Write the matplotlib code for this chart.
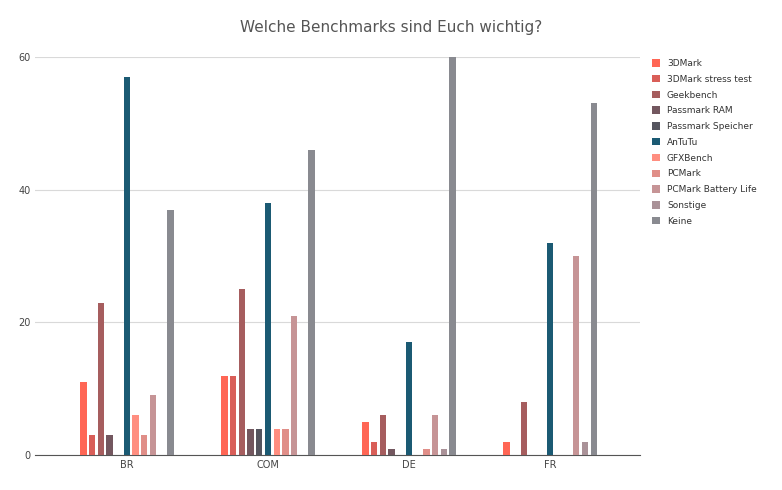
import matplotlib
matplotlib.use("Agg")
import matplotlib.pyplot as plt
import numpy as np

categories = ["BR", "COM", "DE", "FR"]
series = ["3DMark", "3DMark stress test", "Geekbench", "Passmark RAM", "Passmark Speicher",
          "AnTuTu", "GFXBench", "PCMark", "PCMark Battery Life", "Sonstige", "Keine"]
values = {
    "3DMark": [11, 12, 5, 2],
    "3DMark stress test": [3, 12, 2, 0],
    "Geekbench": [23, 25, 6, 8],
    "Passmark RAM": [3, 4, 1, 0],
    "Passmark Speicher": [0, 4, 0, 0],
    "AnTuTu": [57, 38, 17, 32],
    "GFXBench": [6, 4, 0, 0],
    "PCMark": [3, 4, 1, 0],
    "PCMark Battery Life": [9, 21, 6, 30],
    "Sonstige": [0, 0, 1, 2],
    "Keine": [37, 46, 60, 53],
}
colors = ["#ff6655", "#d95e58", "#a65d5e", "#73575f", "#55555f", "#1b5a73",
          "#ff8e80", "#e08e88", "#c69496", "#aa9298", "#898a90"]

fig = plt.figure(figsize=(7.82, 4.9), dpi=100)
ax = fig.add_axes([0.045, 0.071, 0.774, 0.813])
x = np.arange(len(categories))
step = 0.0617
for i, (s, c) in enumerate(zip(series, colors)):
    ax.bar(x + (i - 5) * step, values[s], width=0.045, color=c, label=s, zorder=3)

ax.set_xlim(-0.65, 3.64)
ax.set_ylim(0, 60)
ax.set_yticks([0, 20, 40, 60])
ax.set_xticks(x)
ax.set_xticklabels(categories)
ax.tick_params(length=0, labelsize=7, colors="#444444")
ax.grid(axis="y", color="#d9d9d9", linewidth=0.8, zorder=0)
for sp in ["top", "right", "left"]:
    ax.spines[sp].set_visible(False)
ax.spines["bottom"].set_color("#555555")
fig.text(0.5, 0.935, "Welche Benchmarks sind Euch wichtig?", ha="center", fontsize=11, color="#555555")
leg = ax.legend(loc="upper left", bbox_to_anchor=(1.005, 1.015), frameon=False, fontsize=6.5,
                handlelength=0.9, handleheight=0.9, labelspacing=0.75, handletextpad=0.8)
for t in leg.get_texts():
    t.set_color("#333333")
fig.savefig("out.png", dpi=100)
